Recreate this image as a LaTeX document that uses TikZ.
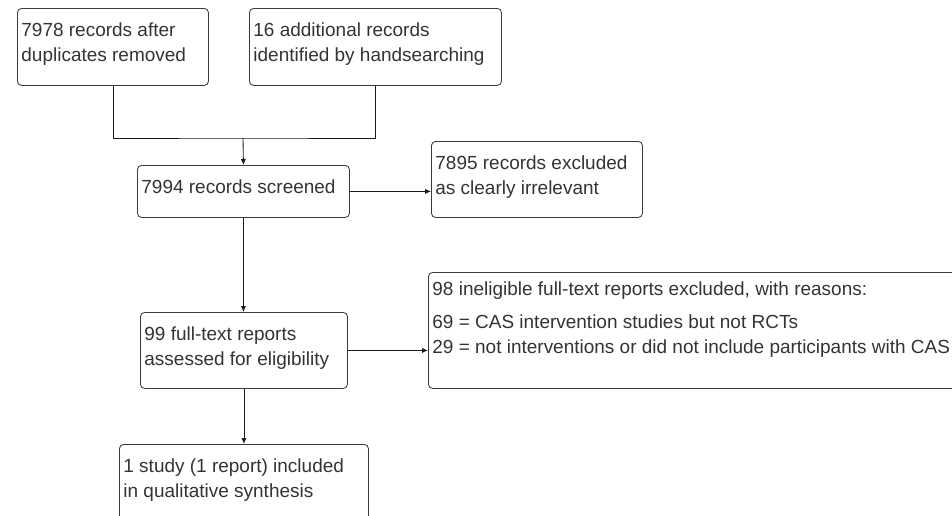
\documentclass[tikz,border=0pt]{standalone}
\usepackage{fontspec}
\setmainfont{Liberation Sans}
\usetikzlibrary{arrows.meta}
\definecolor{boxgray}{HTML}{3A3A3A}
\newcommand{\boxlines}[3]{\parbox[t][#2][t]{#1}{\raggedright #3}}

\begin{document}
\begin{tikzpicture}[
		x=0.025cm, y=-0.025cm,
		flowbox/.style={draw=boxgray, line width=0.6pt, rounded corners=3pt, anchor=north west,
			inner xsep=0.1cm, inner ysep=0.35cm, text=black!80, font=\fontsize{13.5pt}{17.8pt}\selectfont},
		flowline/.style={draw=black!90, line width=0.6pt},
		flowarrow/.style={flowline, -{Latex[length=1.5mm,width=1.3mm]}}]
	
	\useasboundingbox (0,0) rectangle (952,515);
	\clip (0,0) rectangle (952,515);
	
	% identification
	\node[flowbox] (found) at (17,8) {\boxlines{4.575cm}{1.225cm}{7978 records after\\duplicates removed}};
	\node[flowbox] (extra) at (249,8) {\boxlines{6.1cm}{1.225cm}{16 additional records\\identified by handsearching}};
	
	% screening
	\node[flowbox] (screened) at (137,165) {\boxlines{5.1cm}{0.6cm}{7994 records screened}};
	\node[flowbox] (irrelevant) at (431,141) {\boxlines{5.075cm}{1.2cm}{7895 records excluded\\as clearly irrelevant}};
	
	% eligibility
	\node[flowbox] (fulltext) at (140,312) {\boxlines{4.975cm}{1.2cm}{99 full-text reports\\assessed for eligibility}};
	\node[flowbox, inner ysep=0.225cm] (ineligible) at (428,272) {\boxlines{15cm}{2.45cm}{98 ineligible full-text reports excluded, with reasons:\\[0.2cm]69 = CAS intervention studies but not RCTs\\29 = not interventions or did not include participants with CAS}};
	
	% included
	\node[flowbox] (included) at (119,444) {\boxlines{6.025cm}{1.8cm}{1 study (1 report) included\\in qualitative synthesis}};
	
	\coordinate (merge) at (243,138);
	\draw[flowline] (found.south) |- (merge) -| (extra.south);
	\draw[flowarrow] (merge) -- (screened.north);
	\draw[flowarrow] (screened.east) -- (screened.east -| irrelevant.west);
	\draw[flowarrow] (screened.south) -- (screened.south |- fulltext.north);
	\draw[flowarrow] (fulltext.east) -- (fulltext.east -| ineligible.west);
	\draw[flowarrow] (fulltext.south) -- (fulltext.south |- included.north);
\end{tikzpicture}
\end{document}
